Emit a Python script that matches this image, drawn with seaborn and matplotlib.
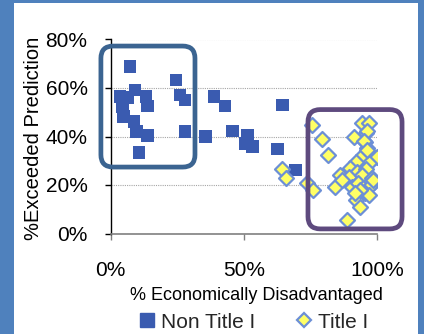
import matplotlib
matplotlib.use("Agg")
import matplotlib.pyplot as plt
from matplotlib.patches import FancyBboxPatch
from matplotlib.lines import Line2D
from matplotlib.ticker import PercentFormatter
import seaborn as sns
import pandas as pd

# % economically disadvantaged vs % exceeding prediction, per school
non_title_x = [7.3, 24.6, 9.2, 3.6, 6.5, 13.3, 26.1, 28.0, 13.8, 4.4, 4.8, 8.8, 9.8,
               13.9, 28.0, 10.7, 38.8, 43.0, 64.6, 35.7, 45.7, 51.5, 50.7, 53.2, 62.7, 69.5]
non_title_y = [68.8, 63.3, 59.2, 56.4, 56.0, 56.4, 57.1, 55.1, 52.6, 52.3, 48.2, 46.1, 42.0,
               40.3, 42.0, 33.3, 56.4, 52.6, 53.0, 39.9, 42.3, 40.6, 37.2, 35.8, 34.8, 26.2]

title_x = [75.7, 79.2, 81.5, 64.2, 65.9, 73.6, 75.9, 84.2, 86.1, 88.6, 94.3, 97.1, 91.4,
           95.9, 95.5, 96.4, 99.9, 94.9, 97.1, 92.1, 89.9, 92.4, 95.9, 89.6, 94.3, 98.0,
           98.9, 90.5, 93.0, 94.9, 97.4, 95.5, 97.1, 92.1, 93.6, 86.8, 93.6, 91.7, 96.1,
           95.1, 96.1, 98.6]
title_y = [44.7, 38.8, 32.4, 26.5, 22.8, 20.7, 17.9, 19.0, 24.1, 5.6, 45.4, 45.4, 39.7,
           41.6, 37.9, 35.1, 31.7, 32.4, 28.9, 29.6, 26.9, 25.5, 26.5, 23.4, 24.1, 22.8,
           21.4, 19.3, 21.0, 18.6, 19.6, 16.6, 15.9, 13.8, 11.1, 22.1, 17.9, 16.6, 42.4,
           38.3, 34.4, 22.1]

x_ticks = [0, 50, 100]
y_ticks = [0, 20, 40, 60, 80]
legend_labels = ["Non Title I", "Title I"]

non_title = pd.DataFrame({"x": non_title_x, "y": non_title_y})
title_one = pd.DataFrame({"x": title_x, "y": title_y})

sns.set_style("white")
plt.rcParams["font.family"] = ["Liberation Sans", "DejaVu Sans"]

W, H = 424, 334
fig = plt.figure(figsize=(W / 100, H / 100), dpi=100)
fig.patch.set_facecolor("#4F81BD")
# white panel inside the blue frame
fig.add_artist(plt.Rectangle((14 / W, 0), (418 - 14) / W, (H - 3) / H,
                             transform=fig.transFigure, facecolor="white",
                             edgecolor="none", zorder=0))

left, right, top, bottom = 110.5, 377, 39.5, 233.5
ax = fig.add_axes([left / W, 1 - bottom / H, (right - left) / W, (bottom - top) / H])
ax.set_facecolor("none")

blue = "#3A5BB0"
yellow = "#FFFF66"
diamond_edge = "#6C8FD6"

sns.scatterplot(data=non_title, x="x", y="y", ax=ax, marker="s", s=82,
                color=blue, edgecolor="none", linewidth=0, zorder=3)
sns.scatterplot(data=title_one, x="x", y="y", ax=ax, marker="D", s=58,
                color=yellow, edgecolor=diamond_edge, linewidth=1.6, zorder=3)

ax.set_xlim(0, 100)
ax.set_ylim(0, 80)
ax.set_xticks(x_ticks)
ax.set_yticks(y_ticks)
ax.xaxis.set_major_formatter(PercentFormatter(decimals=0))
ax.yaxis.set_major_formatter(PercentFormatter(decimals=0))
ax.set_xlabel("")
ax.set_ylabel("")

ax.grid(axis="y", color="#A6A6A6", linestyle=(0, (1, 1)), linewidth=0.8)
ax.grid(axis="x", visible=False)
ax.set_axisbelow(True)

for s in ("top", "right"):
    ax.spines[s].set_visible(False)
ax.spines["left"].set_color("black")
ax.spines["left"].set_linewidth(1.0)
ax.spines["bottom"].set_color("#808080")
ax.spines["bottom"].set_linewidth(1.2)

ax.tick_params(axis="x", direction="out", length=4.5, width=1.0, color="#808080",
               pad=15.5, labelsize=15, labelcolor="black", bottom=True)
ax.tick_params(axis="y", direction="out", length=4.5, width=1.0, color="black",
               pad=12, labelsize=15, labelcolor="black", left=True)

# highlight boxes around the two groups of schools
aspect = 2.665 / 2.425
box_style = "round,pad=0,rounding_size=4.6"
ax.add_patch(FancyBboxPatch((-3.6, 27.4), 35.3, 49.9, boxstyle=box_style,
                            mutation_aspect=aspect, facecolor="none",
                            edgecolor="#3B6491", linewidth=3.4, clip_on=False, zorder=4))
ax.add_patch(FancyBboxPatch((74.1, 1.9), 35.3, 49.2, boxstyle=box_style,
                            mutation_aspect=aspect, facecolor="none",
                            edgecolor="#5E4A7E", linewidth=3.4, clip_on=False, zorder=4))

fig.text(34 / W, 1 - 138 / H, "%Exceeded Prediction", rotation=90,
         ha="center", va="center", fontsize=14.5, color="black")
fig.text(256 / W, 1 - 295 / H, "% Economically Disadvantaged",
         ha="center", va="center", fontsize=13, color="black")

handles = [
    Line2D([], [], linestyle="none", marker="s", markersize=10.5,
           markerfacecolor=blue, markeredgecolor=blue),
    Line2D([], [], linestyle="none", marker="D", markersize=7.5,
           markerfacecolor=yellow, markeredgecolor=diamond_edge, markeredgewidth=1.6),
]
fig.legend(handles, legend_labels, loc="center", bbox_to_anchor=(254 / W, 1 - 322 / H),
           ncol=2, frameon=False, fontsize=15, handlelength=0.7, handletextpad=0.3,
           columnspacing=2.0, borderpad=0, borderaxespad=0)

fig.savefig("out.png", dpi=100, facecolor=fig.get_facecolor())
